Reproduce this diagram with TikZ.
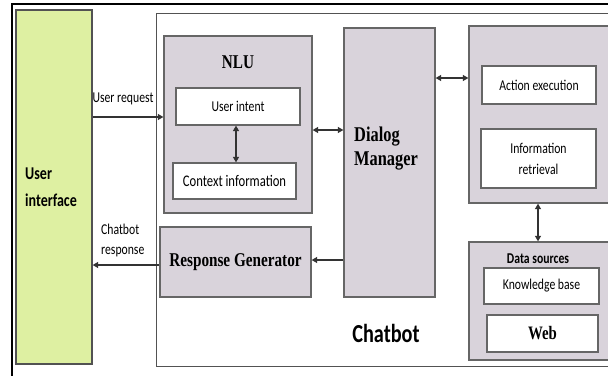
\documentclass[tikz,border=0pt]{standalone}
\usepackage{fontspec}
\usetikzlibrary{arrows.meta,shadows}
\newfontfamily\sansc{Carlito}[FakeStretch=0.78]
\newfontfamily\serifc{Liberation Serif}[FakeStretch=0.78]
\definecolor{uigreen}{HTML}{DEF0A2}
\definecolor{lilac}{HTML}{D9D3DB}
\definecolor{edge}{HTML}{666666}
\tikzset{
  box/.style={draw=edge, line width=1.3pt, fill=lilac, rectangle, inner sep=0pt,
    drop shadow={shadow xshift=0.8pt, shadow yshift=-0.8pt, opacity=0.45}},
  wbox/.style={draw=edge, line width=1.2pt, fill=white, rectangle, inner sep=0pt,
    drop shadow={shadow xshift=0.7pt, shadow yshift=-0.7pt, opacity=0.4},
    font=\sansc\fontsize{15}{17}\selectfont, align=center},
  lbl/.style={inner sep=0pt, font=\sansc\fontsize{15}{20}\selectfont},
  arr/.style={draw=black!80, line width=1.1pt, -{Triangle[length=5.5pt,width=6pt]}},
  darr/.style={draw=black!80, line width=1.1pt, {Triangle[length=5.5pt,width=6pt]}-{Triangle[length=5.5pt,width=6pt]}}
}
\begin{document}
\begin{tikzpicture}[x=1pt,y=-1pt]
\clip (0,0) rectangle (608,375);
\fill[white] (0,0) rectangle (608,375);
% outer black frame
\draw[black, line width=2pt] (12,700) -- (12,4) -- (900,4);
% chatbot frame
\node[draw=edge!80!black, line width=1.4pt, fill=white, rectangle, inner sep=0pt,
  minimum width=500pt, minimum height=353pt, anchor=north west] (frame) at (156,13) {};
% user interface
\node[draw=edge!80!black, line width=1.3pt, fill=uigreen, rectangle, inner sep=0pt,
  minimum width=76pt, minimum height=354pt,
  drop shadow={shadow xshift=0.8pt, shadow yshift=-1pt, opacity=0.5}] (ui) at (54,187) {};
\node[inner sep=0pt, anchor=west, align=left, font=\sansc\bfseries\fontsize{18}{27}\selectfont] (uitxt) at (25,187) {User\\interface};
% NLU
\node[box, minimum width=148pt, minimum height=177pt] (nlu) at (238,124.5) {};
\node[inner sep=0pt, font=\serifc\bfseries\fontsize{19.5}{22}\selectfont] (nlutxt) at (238,62) {NLU};
\node[wbox, minimum width=124pt, minimum height=37pt] (intent) at (238,106.5) {User intent};
\node[wbox, minimum width=123pt, minimum height=36pt, font=\sansc\fontsize{16.2}{18}\selectfont] (context) at (234.5,181) {Context information};
% Dialog manager
\node[box, minimum width=91pt, minimum height=269pt] (dm) at (389.5,162.5) {};
\node[inner sep=0pt, anchor=west, align=left, font=\serifc\bfseries\fontsize{21}{24}\selectfont] (dmtxt) at (354,149) {Dialog\\Manager};
% Response generator
\node[box, minimum width=151pt, minimum height=70pt, font=\serifc\bfseries\fontsize{19.5}{22}\selectfont] (rg) at (235.5,262) {Response Generator};
% Action box
\node[box, minimum width=151pt, minimum height=177pt] (act) at (544.5,114.5) {};
\node[wbox, minimum width=114pt, minimum height=38pt] (exec) at (539,85) {Action execution};
\node[wbox, minimum width=115pt, minimum height=59pt, font=\sansc\fontsize{15}{21}\selectfont] (info) at (538.5,158.5) {Information\\retrieval};
% Data sources
\node[box, minimum width=151pt, minimum height=118pt] (ds) at (544.5,301) {};
\node[inner sep=0pt, font=\sansc\bfseries\fontsize{15}{17}\selectfont] (dstxt) at (538,259) {Data sources};
\node[wbox, minimum width=115pt, minimum height=36pt] (kb) at (541.5,286) {Knowledge base};
\node[wbox, minimum width=111pt, minimum height=37pt, font=\serifc\bfseries\fontsize{19}{22}\selectfont] (web) at (542.5,333.5) {Web};
% Chatbot label
\node[inner sep=0pt, font=\sansc\bfseries\fontsize{26}{30}\selectfont] (cb) at (386,333) {Chatbot};
% edge labels
\node[lbl] (ureq) at (123,99) {User request};
\node[lbl, anchor=west, align=left] (cresp) at (101,240) {Chatbot\\response};
% connectors
\draw[arr] (ui.east |- 0,117) -- (nlu.west |- 0,117);
\draw[darr] (intent.south -| 236,0) -- (context.north -| 236,0);
\draw[darr] (nlu.east |- 0,130) -- (dm.west |- 0,130);
\draw[darr] (dm.east |- 0,78) -- (act.west |- 0,78);
\draw[darr] (act.south -| 538,0) -- (ds.north -| 538,0);
\draw[arr] (dm.west |- 0,260) -- (rg.east |- 0,260);
\draw[arr] (rg.west |- 0,265) -- (ui.east |- 0,265);
\end{tikzpicture}
\end{document}
